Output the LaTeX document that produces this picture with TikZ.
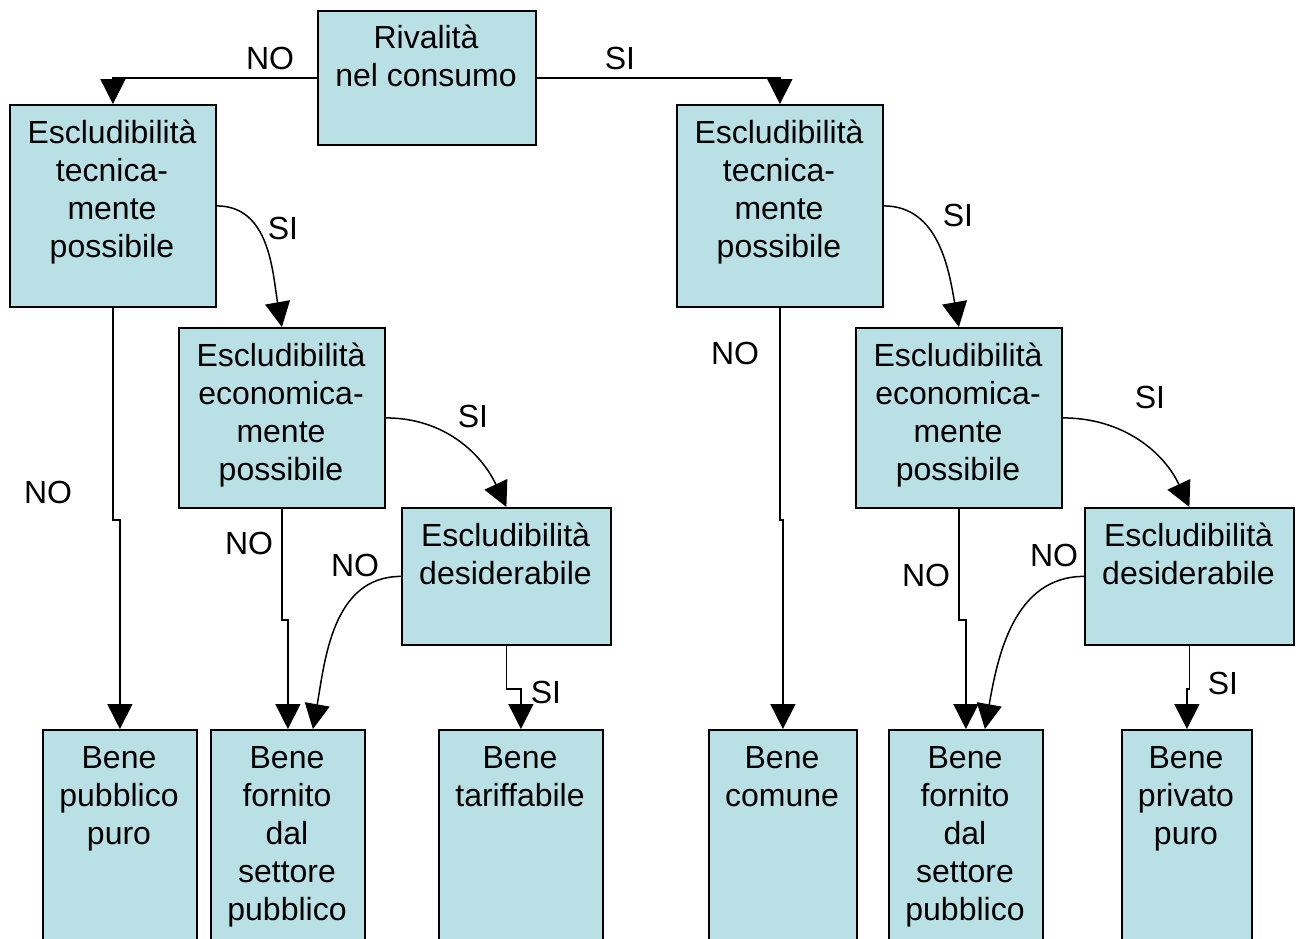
\documentclass[tikz,border=0pt]{standalone}
\usepackage{fontspec}
\setmainfont{Liberation Sans}
\usetikzlibrary{arrows.meta}
\definecolor{boxfill}{RGB}{185,224,228}
\tikzset{
  box/.style={draw=black, line width=1.8pt, fill=boxfill, inner sep=0pt, anchor=north west},
  txt/.style={inner sep=0pt, anchor=base, font=\fontsize{32}{38}\selectfont},
  lbl/.style={inner sep=0pt, font=\fontsize{32}{38}\selectfont},
  conn/.style={draw, line width=1.5pt, -{Triangle[length=25pt,width=25pt]}},
}
\begin{document}
\begin{tikzpicture}[x=1pt,y=-1pt]
\useasboundingbox (0,0) rectangle (1302,938);
\clip (0,0) rectangle (1302,938);
% upper boxes
\node[box, minimum width=218pt, minimum height=134pt] (riv) at (317,10) {};
\node[txt] (rivT) at (426,48) {\parbox[t]{218pt}{\centering Rivalità\\nel consumo}};
\node[box, minimum width=206pt, minimum height=202pt] (t1) at (9,104) {};
\node[txt] (t1T) at (112,143) {\parbox[t]{206pt}{\centering Escludibilità\\tecnica-\\mente\\possibile}};
\node[box, minimum width=206pt, minimum height=202pt] (t2) at (676,104) {};
\node[txt] (t2T) at (779,143) {\parbox[t]{206pt}{\centering Escludibilità\\tecnica-\\mente\\possibile}};
\node[box, minimum width=206pt, minimum height=180pt] (e1) at (178,327) {};
\node[txt] (e1T) at (281,366) {\parbox[t]{206pt}{\centering Escludibilità\\economica-\\mente\\possibile}};
\node[box, minimum width=206pt, minimum height=180pt] (e2) at (855,327) {};
\node[txt] (e2T) at (958,366) {\parbox[t]{206pt}{\centering Escludibilità\\economica-\\mente\\possibile}};
\node[box, minimum width=209pt, minimum height=137pt] (d1) at (401,507) {};
\node[txt] (d1T) at (505.5,546) {\parbox[t]{209pt}{\centering Escludibilità\\desiderabile}};
\node[box, minimum width=209pt, minimum height=137pt] (d2) at (1084,507) {};
\node[txt] (d2T) at (1188.5,546) {\parbox[t]{209pt}{\centering Escludibilità\\desiderabile}};
% bottom boxes
\node[box, minimum width=154pt, minimum height=240pt] (b1) at (42,729) {};
\node[txt] (b1T) at (119,768) {\parbox[t]{154pt}{\centering Bene\\pubblico\\puro}};
\node[box, minimum width=154pt, minimum height=240pt] (b2) at (210,729) {};
\node[txt] (b2T) at (287,768) {\parbox[t]{154pt}{\centering Bene\\fornito\\dal\\settore\\pubblico}};
\node[box, minimum width=164pt, minimum height=240pt] (b3) at (438,729) {};
\node[txt] (b3T) at (520,768) {\parbox[t]{164pt}{\centering Bene\\tariffabile}};
\node[box, minimum width=148pt, minimum height=240pt] (b4) at (708,729) {};
\node[txt] (b4T) at (782,768) {\parbox[t]{148pt}{\centering Bene\\comune}};
\node[box, minimum width=154pt, minimum height=240pt] (b5) at (888,729) {};
\node[txt] (b5T) at (965,768) {\parbox[t]{154pt}{\centering Bene\\fornito\\dal\\settore\\pubblico}};
\node[box, minimum width=130pt, minimum height=240pt] (b6) at (1121,729) {};
\node[txt] (b6T) at (1186,768) {\parbox[t]{130pt}{\centering Bene\\privato\\puro}};
% connectors
\draw[conn] (riv.west) -| (t1.north);
\draw[conn] (riv.east) -| (t2.north);
\draw[conn] (t1.east) to[out=0,in=100] (e1.north);
\draw[conn] (t1.south) -- ++(0,212) -| (b1.north);
\draw[conn] (e1.east) to[out=0,in=115] (d1.north);
\draw[conn] (e1.south) -- ++(0,111) -| (b2.north);
\draw[conn] (d1.west) to[out=180,in=80] ([xshift=25pt]b2.north);
\draw[conn] (d1.south) -- ++(0,43) -| (b3.north);
\draw[conn] (t2.east) to[out=0,in=100] (e2.north);
\draw[conn] (t2.south) -- ++(0,212) -| (b4.north);
\draw[conn] (e2.east) to[out=0,in=115] (d2.north);
\draw[conn] (e2.south) -- ++(0,111) -| (b5.north);
\draw[conn] (d2.west) to[out=180,in=80] ([xshift=19pt]b5.north);
\draw[conn] (d2.south) -- ++(0,43) -| (b6.north);
% labels
\node[lbl] (l1) at (270,58) {NO};
\node[lbl] (l2) at (620,58) {SI};
\node[lbl] (l3) at (283,228) {SI};
\node[lbl] (l4) at (48,492) {NO};
\node[lbl] (l5) at (473,416) {SI};
\node[lbl] (l6) at (249,543) {NO};
\node[lbl] (l7) at (355,565) {NO};
\node[lbl] (l8) at (546,692) {SI};
\node[lbl] (l9) at (958,215) {SI};
\node[lbl] (l10) at (735,353) {NO};
\node[lbl] (l11) at (1150,397) {SI};
\node[lbl] (l12) at (926,575) {NO};
\node[lbl] (l13) at (1054,555) {NO};
\node[lbl] (l14) at (1223,683) {SI};
\end{tikzpicture}
\end{document}
